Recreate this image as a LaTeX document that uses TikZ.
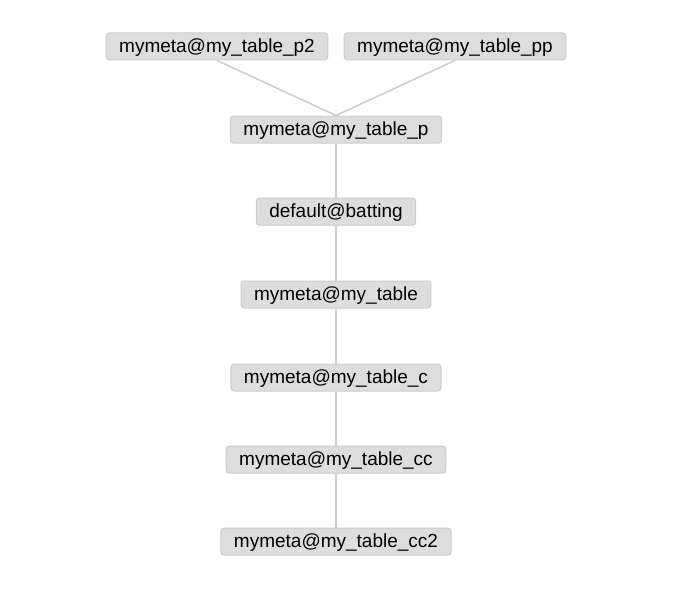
\documentclass[tikz,border=0pt]{standalone}
\usepackage{fontspec}
\setmainfont{Liberation Sans}
\usetikzlibrary{calc}

\definecolor{boxfill}{HTML}{DDDDDD}
\definecolor{boxline}{HTML}{CCCCCC}

\tikzset{
  tbl/.style={draw=boxline, fill=boxfill, rounded corners=3pt, line width=1pt,
    inner xsep=13pt, inner ysep=0pt, minimum height=27pt,
    text height=14.5pt, text depth=3pt,
    font=\fontsize{19}{22}\selectfont},
  link/.style={draw=boxline, line width=1.5pt}
}

\begin{document}
\begin{tikzpicture}[x=1pt,y=-1pt]
\useasboundingbox (0,0) rectangle (688,602);
% Parents
\node [tbl] (p2) at (217,46.5) {mymeta@my\_table\_p2};
\node [tbl] (pp) at (455,46.5) {mymeta@my\_table\_pp};
% Chain
\node [tbl] (p) at (336,129.5) {mymeta@my\_table\_p};
\node [tbl] (bat) at (336,211.5) {default@batting};
\node [tbl] (tab) at (336,294.5) {mymeta@my\_table};
\node [tbl] (c) at (336,377.5) {mymeta@my\_table\_c};
\node [tbl] (cc) at (336,459.5) {mymeta@my\_table\_cc};
\node [tbl] (cc2) at (336,541.5) {mymeta@my\_table\_cc2};
% p2 -- p, pp -- p
\draw [link] (p2.south) -- (p.north);
\draw [link] (pp.south) -- (p.north);
% Vertical links
\draw [link] (p) -- (bat);
\draw [link] (bat) -- (tab);
\draw [link] (tab) -- (c);
\draw [link] (c) -- (cc);
\draw [link] (cc) -- (cc2);
\end{tikzpicture}
\end{document}
